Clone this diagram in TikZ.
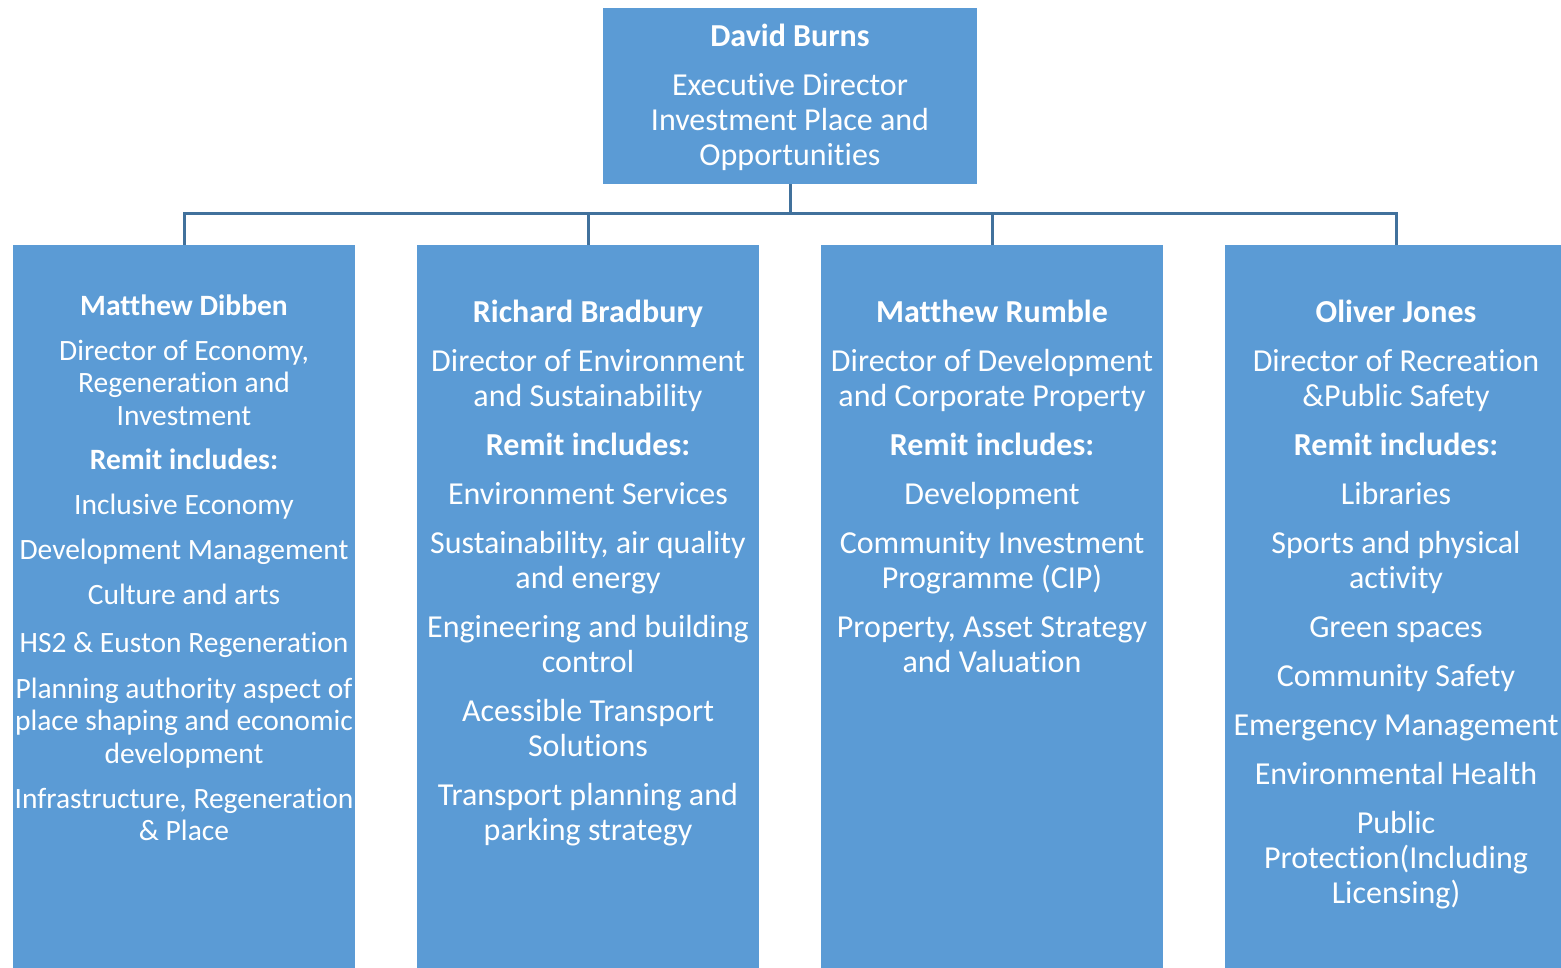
\documentclass[tikz,border=0pt]{standalone}
\usepackage{fontspec}
\setmainfont{Carlito}[Ligatures=NoCommon]
\usetikzlibrary{calc}
\definecolor{boxblue}{HTML}{5B9BD5}
\definecolor{lineblue}{HTML}{41719C}
\newcommand\topstrut{\rule{0pt}{28pt}}
\tikzset{
	head/.style={fill=boxblue, inner sep=0pt, minimum width=374pt, minimum height=176pt, anchor=north},
	remit/.style={fill=boxblue, inner sep=0pt, minimum width=342pt, minimum height=723pt, anchor=north},
	txt/.style={text=white, inner sep=0pt, align=center, anchor=north, font=\fontsize{32}{35}\selectfont},
	txtsm/.style={txt, font=\fontsize{29.5}{32.5}\selectfont},
	link/.style={draw=lineblue, line width=3pt}
}

\begin{document}
\begin{tikzpicture}[x=1pt, y=-1pt]
	%%%%% START %%%%%
	\def\colA{184}
	\def\colB{588}
	\def\colC{992}
	\def\colD{1396}
	\def\ytop{245}
	\def\gap{14pt}
	\def\gapsm{12.5pt}
	
	\useasboundingbox (0,0) rectangle (1561,968);
	
	% boxes
	\node[head] (burns) at (790,8) {};
	\node[remit] (dibben) at (\colA,\ytop) {};
	\node[remit] (bradbury) at (\colB,\ytop) {};
	\node[remit] (rumble) at (\colC,\ytop) {};
	\node[remit] (jones) at (\colD,\ytop) {};
	
	% connectors
	\coordinate (bar) at ($(burns.south)+(0,29)$);
	\draw[link] (burns.south) -- (bar);
	\draw[link] (bar) -| (dibben.north);
	\draw[link] (bar) -| (bradbury.north);
	\draw[link] (bar) -| (rumble.north);
	\draw[link] (bar) -| (jones.north);
	
	% texts
	\node[txt] (burnstext) at (790,46-28) {\topstrut\textbf{David Burns}\\[\gap]
		Executive Director\\ Investment Place and\\ Opportunities};
	
	\node[txtsm] (dibbentext) at (\colA,315-28) {\topstrut\textbf{Matthew Dibben}\\[\gapsm]
		Director of Economy,\\ Regeneration and\\ Investment\\[11.5pt]
		\textbf{Remit includes:}\\[\gapsm]
		Inclusive Economy\\[\gapsm]
		Development Management\\[\gapsm]
		Culture and arts\\[15.5pt]
		HS2 \& Euston Regeneration\\[13.5pt]
		Planning authority aspect of\\ place shaping and economic\\ development\\[\gapsm]
		Infrastructure, Regeneration\\ \& Place};
	
	\node[txt] (bradburytext) at (\colB,322-28) {\topstrut\textbf{Richard Bradbury}\\[\gap]
		Director of Environment\\ and Sustainability\\[\gap]
		\textbf{Remit includes:}\\[\gap]
		Environment Services\\[\gap]
		Sustainability, air quality\\ and energy\\[\gap]
		Engineering and building\\ control\\[\gap]
		Acessible Transport\\ Solutions\\[\gap]
		Transport planning and\\ parking strategy};
	
	\node[txt] (rumbletext) at (\colC,322-28) {\topstrut\textbf{Matthew Rumble}\\[\gap]
		Director of Development\\ and Corporate Property\\[\gap]
		\textbf{Remit includes:}\\[\gap]
		Development\\[\gap]
		Community Investment\\ Programme (CIP)\\[\gap]
		Property, Asset Strategy\\ and Valuation};
	
	\node[txt] (jonestext) at (\colD,322-28) {\topstrut\textbf{Oliver Jones}\\[\gap]
		Director of Recreation\\ \&Public Safety\\[\gap]
		\textbf{Remit includes:}\\[\gap]
		Libraries\\[\gap]
		Sports and physical\\ activity\\[\gap]
		Green spaces\\[\gap]
		Community Safety\\[\gap]
		Emergency Management\\[\gap]
		Environmental Health\\[\gap]
		Public\\ Protection(Including\\ Licensing)};
	%%%%% END %%%%%
\end{tikzpicture}
\end{document}
